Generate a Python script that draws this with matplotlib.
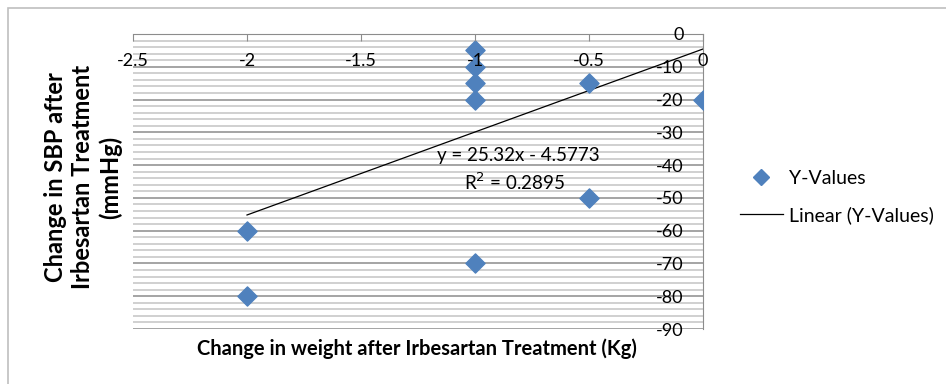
import matplotlib.pyplot as plt
from matplotlib.patches import Rectangle
from matplotlib.lines import Line2D

# data
weight_change = [-1, -1, -1, -1, -1, -0.5, -0.5, 0, -2, -2]
sbp_change = [-5, -10, -15, -20, -70, -15, -50, -20, -60, -80]
trend_slope = 25.32
trend_intercept = -4.5773
trend_r2 = 0.2895
trend_x = [-2, 0]
x_ticks = [-2.5, -2, -1.5, -1, -0.5, 0]
y_ticks = [0, -10, -20, -30, -40, -50, -60, -70, -80, -90]
y_minor = [v for v in range(-88, 0, 2) if v % 10 != 0]

plt.rcParams['font.family'] = ['Lato', 'DejaVu Sans']

fig = plt.figure(figsize=(9.46, 3.84), dpi=100)
W, H = 946, 384

# outer chart border
fig.patches.append(Rectangle((8 / W, -0.1), 1.2, 1 - 8 / H + 0.1, transform=fig.transFigure,
                             fill=False, edgecolor='#bfbfbf', linewidth=1.2))

ax = fig.add_axes([133 / W, 1 - 329 / H, (703 - 133) / W, (329 - 34) / H])
ax.set_xlim(-2.5, 0)
ax.set_ylim(-90, 0)

# gridlines drawn by hand so tick labels can sit above the markers
ax.hlines(y_minor, -2.5, 0, color='#c4c4c4', linewidth=1.1, zorder=0.5)
ax.hlines(y_ticks[1:], -2.5, 0, color='#8c8c8c', linewidth=1.1, zorder=0.6)

for s in ['top', 'right']:
    ax.spines[s].set_visible(False)
ax.spines['bottom'].set_position(('data', 0))
ax.spines['left'].set_position(('data', 0))
ax.spines['bottom'].set_color('#8c8c8c')
ax.spines['left'].set_color('#8c8c8c')
ax.xaxis.set_zorder(5)
ax.yaxis.set_zorder(5)

ax.set_xticks(x_ticks)
ax.set_xticklabels(['-2.5', '-2', '-1.5', '-1', '-0.5', '0'])
ax.set_yticks(y_ticks)
ax.set_yticklabels([str(v) for v in y_ticks])
ax.tick_params(axis='x', which='major', direction='out', length=5, color='#8c8c8c',
               pad=9, labelsize=13)
ax.tick_params(axis='y', which='both', length=0, pad=14, labelsize=13)

ax.scatter(weight_change, sbp_change, marker='D', s=95, color='#4f81bd', zorder=3,
           label='Y-Values')
trend_y = [trend_slope * x + trend_intercept for x in trend_x]
ax.plot(trend_x, trend_y, color='black', linewidth=0.9, zorder=2)

ax.text(-0.81, -37.2, 'y = 25.32x - 4.5773', fontsize=13.5, ha='center', va='center')
ax.text(-0.825, -45.2, 'R$^2$ = %.4f' % trend_r2, fontsize=13.5, ha='center', va='center')

fig.text(417 / W, 1 - 349 / H, 'Change in weight after Irbesartan Treatment (Kg)',
         fontsize=14.5, fontweight='bold', ha='center', va='center')
fig.text(83 / W, 1 - 177 / H, 'Change in SBP after\nIrbesartan Treatment\n(mmHg)',
         fontsize=17, fontweight='bold', ha='center', va='center', rotation=90,
         linespacing=1.2)

handles = [Line2D([], [], marker='D', color='#4f81bd', linestyle='none', markersize=8),
           Line2D([], [], color='black', linewidth=0.9)]
fig.legend(handles, ['Y-Values', 'Linear (Y-Values)'], loc='center left',
           bbox_to_anchor=(740 / W, 1 - 197 / H), frameon=False, fontsize=14,
           handlelength=2.2, handletextpad=0.3, labelspacing=1.0, borderaxespad=0,
           borderpad=0)

fig.savefig('out.png', dpi=100)
